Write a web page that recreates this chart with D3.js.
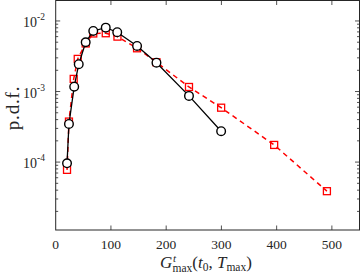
<!DOCTYPE html>
<html><head><meta charset="utf-8">
<script src="https://cdn.jsdelivr.net/npm/d3@7"></script>
<style>body{margin:0;background:#fff}svg{display:block}text{font-family:"Liberation Serif","DejaVu Serif",serif;fill:#262626}</style>
</head><body><svg id="c" width="361" height="277"></svg>
<script>
const blackX = [20.5, 24, 33.5, 41.7, 54.3, 68, 90.6, 111.4, 147.3, 182.4, 241.3, 299.5];
const blackY = [9.6e-5, 3.47e-4, 1.17e-3, 2.44e-3, 4.99e-3, 7.22e-3, 8.04e-3, 6.93e-3, 4.43e-3, 2.56e-3, 8.67e-4, 2.74e-4];
const redX = [20.5, 24, 32.6, 39.9, 54.3, 68, 90.6, 111.8, 147.3, 182.4, 241.3, 299.5, 395.5, 491];
const redY = [7.76e-5, 3.75e-4, 1.51e-3, 2.9e-3, 4.8e-3, 6.65e-3, 6.7e-3, 6.0e-3, 4.1e-3, 2.6e-3, 1.16e-3, 5.9e-4, 1.75e-4, 3.87e-5];
const xTicks = [0, 100, 200, 300, 400, 500];
const yTickExp = [-4, -3, -2];

const svg = d3.select("#c");
const L = 55.7, R = 359.5, T = 0.5, B = 230;
const x = d3.scaleLinear().domain([0, 550]).range([L, R]);
const y = d3.scaleLog().domain([1.09e-5, 1.95e-2]).range([B, T]);
const ax = "#262626";

const minors = [];
for (let e = -5; e <= -2; e++) for (let m = 2; m <= 9; m++) { const v = m * Math.pow(10, e); if (v >= y.domain()[0] && v <= y.domain()[1]) minors.push(v); }
const g = svg.append("g");
minors.forEach(v => {
  g.append("line").attr("x1", L).attr("x2", L + 2.5).attr("y1", y(v)).attr("y2", y(v)).attr("stroke", ax).attr("stroke-width", 0.8);
  g.append("line").attr("x1", R).attr("x2", R - 2.5).attr("y1", y(v)).attr("y2", y(v)).attr("stroke", ax).attr("stroke-width", 0.8);
});
yTickExp.forEach(e => {
  const v = Math.pow(10, e);
  g.append("line").attr("x1", L).attr("x2", L + 4.5).attr("y1", y(v)).attr("y2", y(v)).attr("stroke", ax).attr("stroke-width", 0.8);
  g.append("line").attr("x1", R).attr("x2", R - 4.5).attr("y1", y(v)).attr("y2", y(v)).attr("stroke", ax).attr("stroke-width", 0.8);
  g.append("text").attr("x", 37).attr("y", y(v) + 6).attr("text-anchor", "end").attr("font-size", 14).text("10");
  g.append("text").attr("x", 37).attr("y", y(v) - 1).attr("font-size", 9.5).text("-" + (-e));
});
xTicks.forEach(v => {
  if (v > 0) {
    g.append("line").attr("x1", x(v)).attr("x2", x(v)).attr("y1", B).attr("y2", B - 4.5).attr("stroke", ax).attr("stroke-width", 0.8);
    g.append("line").attr("x1", x(v)).attr("x2", x(v)).attr("y1", T).attr("y2", T + 4.5).attr("stroke", ax).attr("stroke-width", 0.8);
  }
  g.append("text").attr("x", x(v)).attr("y", B + 19).attr("text-anchor", "middle").attr("font-size", 13.5).text(v);
});
g.append("rect").attr("x", L).attr("y", T).attr("width", R - L).attr("height", B - T).attr("fill", "none").attr("stroke", ax).attr("stroke-width", 1);

const red = redX.map((v, i) => [v, redY[i]]);
const black = blackX.map((v, i) => [v, blackY[i]]);
const line = d3.line().x(d => x(d[0])).y(d => y(d[1]));
svg.append("path").attr("d", line(red)).attr("fill", "none").attr("stroke", "#ff0000").attr("stroke-width", 1.5).attr("stroke-dasharray", "5,4");
svg.selectAll(".sq").data(red).enter().append("rect").attr("x", d => x(d[0]) - 3.5).attr("y", d => y(d[1]) - 3.5).attr("width", 7).attr("height", 7).attr("fill", "none").attr("stroke", "#ff0000").attr("stroke-width", 1.3);
svg.append("path").attr("d", line(black)).attr("fill", "none").attr("stroke", "#000").attr("stroke-width", 1.3);
svg.selectAll(".ci").data(black).enter().append("circle").attr("cx", d => x(d[0])).attr("cy", d => y(d[1])).attr("r", 4.3).attr("fill", "#fff").attr("stroke", "#000").attr("stroke-width", 1.4);

svg.append("text").attr("transform", "translate(19,108) rotate(-90)").attr("text-anchor", "middle").attr("font-size", 19).attr("letter-spacing", 0.8).text("p.d.f.");
const xl = svg.append("text").attr("x", 206).attr("y", 268).attr("text-anchor", "middle").attr("font-size", 17);
xl.append("tspan").attr("font-style", "italic").text("G");
xl.append("tspan").attr("font-style", "italic").attr("font-size", 11).attr("dy", -6).attr("dx", 0.5).text("t");
xl.append("tspan").attr("font-size", 11.5).attr("dy", 10).attr("dx", -3.5).text("max");
xl.append("tspan").attr("dy", -4).text("(");
xl.append("tspan").attr("font-style", "italic").text("t");
xl.append("tspan").attr("font-size", 11.5).attr("dy", 3).text("0");
xl.append("tspan").attr("dy", -3).text(", ");
xl.append("tspan").attr("font-style", "italic").text("T");
xl.append("tspan").attr("font-size", 11.5).attr("dy", 3).text("max");
xl.append("tspan").attr("dy", -3).text(")");
</script></body></html>
